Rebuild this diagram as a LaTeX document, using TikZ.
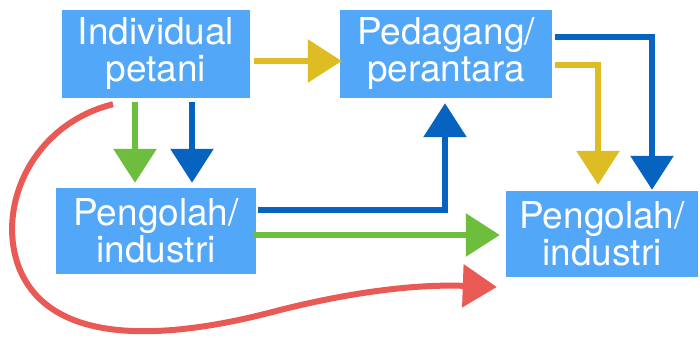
\documentclass[tikz,border=0pt]{standalone}
\usepackage{fontspec}
\setmainfont{TeX Gyre Heros}
\usetikzlibrary{arrows.meta}
\definecolor{boxblue}{RGB}{83,167,249}
\definecolor{cyel}{RGB}{222,188,36}
\definecolor{cgreen}{RGB}{110,190,62}
\definecolor{cblue}{RGB}{6,99,192}
\definecolor{cred}{RGB}{234,90,85}
\tikzset{
  box/.style={fill=boxblue, text=white, align=center, inner sep=0pt,
    font=\fontsize{37}{37}\selectfont},
  crayon/.style={line width=6pt, -{Triangle[length=34pt,width=42pt]}},
}
\begin{document}
\begin{tikzpicture}[x=1pt,y=-1pt]
\useasboundingbox[fill=white] (0,0) rectangle (700,345);
\node[box, minimum width=188pt, minimum height=88pt] (b1) at (156,54) {Individual\\petani};
\node[box, minimum width=212pt, minimum height=88pt] (b2) at (446,54) {Pedagang/\\perantara};
\node[box, minimum width=200pt, minimum height=86pt] (b3) at (156,231) {Pengolah/\\industri};
\node[box, minimum width=192pt, minimum height=86pt] (b4) at (602,234) {Pengolah/\\industri};
% yellow: b1 -> b2
\draw[crayon, cyel] ([shift={(4,7)}]b1.east) -- ([shift={(2,7)}]b2.west);
% green and blue down: b1 -> b3
\draw[crayon, cgreen] ([shift={(-21,4)}]b1.south) -- ([shift={(-21,-5)}]b3.north);
\draw[crayon, cblue] ([shift={(36,4)}]b1.south) -- ([shift={(36,-5)}]b3.north);
% blue: b3 -> b2
\draw[crayon, cblue] ([shift={(2,-21)}]b3.east) -| ([shift={(-1,5)}]b2.south);
% green: b3 -> b4
\draw[crayon, cgreen] ([shift={(-2,4)}]b3.east) -- ([shift={(-6,1)}]b4.west);
% blue and yellow: b2 -> b4
\draw[crayon, cblue] ([shift={(3,-17)}]b2.east) -| ([shift={(50,-1)}]b4.north);
\draw[crayon, cyel] ([shift={(3,11)}]b2.east) -| ([shift={(-4,-6)}]b4.north);
% red: b1 -> b4
\coordinate (r1) at (20,270);
\coordinate (r2) at (280,310);
\draw[crayon, cred] ([shift={(-43,6)}]b1.south)
  .. controls (30,125) and (-5,210) .. (r1)
  .. controls (50,340) and (150,345) .. (r2)
  .. controls (380,285) and (440,285) .. ([shift={(-9,53)}]b4.west);
\end{tikzpicture}
\end{document}
